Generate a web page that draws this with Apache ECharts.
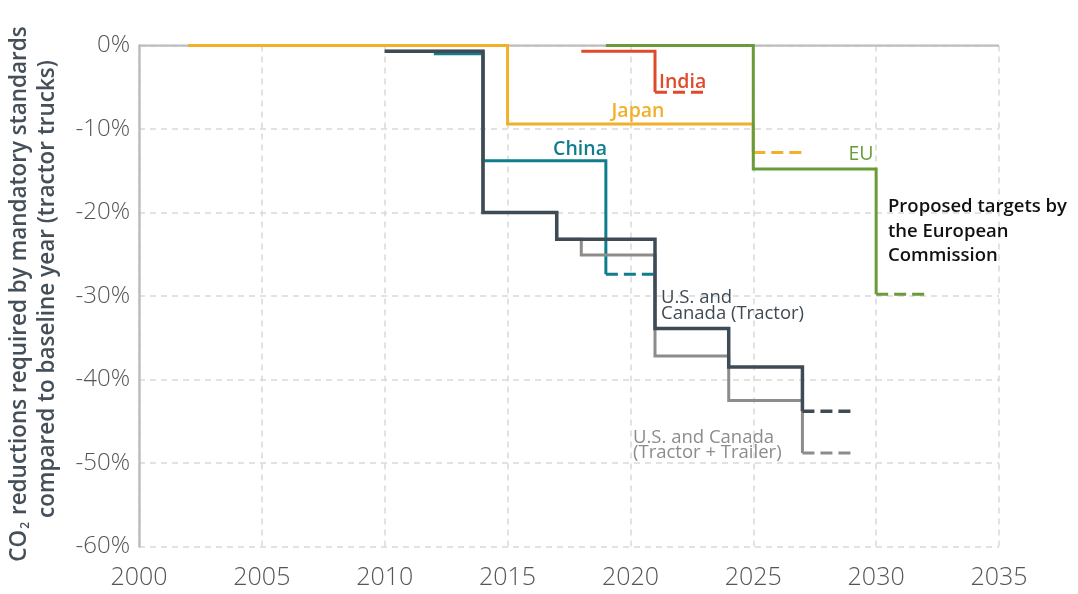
<!DOCTYPE html>
<html><head><meta charset="utf-8">
<script src="https://cdn.jsdelivr.net/npm/echarts@6/dist/echarts.min.js"></script>
<style>html,body{margin:0;padding:0;background:#fff}#c{width:1078px;height:594px}</style>
</head><body><div id="c"></div>
<script>
// Step targets: segment i runs from years[i] to years[i+1] at values[i]; the last segment is drawn dashed.
const japanYears = [2002, 2015, 2025, 2027];
const japanValues = [0, -9.4, -12.8];
const indiaYears = [2018, 2021, 2023];
const indiaValues = [-0.7, -5.6];
const euYears = [2019, 2025, 2030, 2032];
const euValues = [0, -14.8, -29.8];
const chinaYears = [2012, 2014, 2019, 2021];
const chinaValues = [-1.0, -13.8, -27.4];
const tractorYears = [2010, 2014, 2017, 2021, 2024, 2027, 2029];
const tractorValues = [-0.7, -20.0, -23.2, -33.9, -38.5, -43.8];
const trailerYears = [2010, 2014, 2017, 2018, 2021, 2024, 2027, 2029];
const trailerValues = [-0.7, -20.0, -23.2, -25.1, -37.2, -42.5, -48.8];
const baselineYears = [2000, 2035];
const baselineValue = 0;

const FONT = '"Open Sans", "Noto Sans", sans-serif';

function solidPts(years, values) {
  const pts = [];
  const n = values.length;
  for (let i = 0; i < n - 1; i++) {
    pts.push([years[i], values[i]]);
    pts.push([years[i + 1], values[i]]);
  }
  pts.push([years[n - 1], values[n - 1]]);
  return pts;
}
function dashedPts(years, values) {
  const n = values.length;
  return [[years[n - 1], values[n - 1]], [years[n], values[n - 1]]];
}
function pair(name, color, width, years, values, z) {
  const base = { type: 'line', showSymbol: false, symbol: 'none', silent: true, z: z, animation: false };
  return [
    Object.assign({}, base, { name: name, data: solidPts(years, values),
      lineStyle: { color: color, width: width, cap: 'butt', join: 'miter' } }),
    Object.assign({}, base, { name: name + ' dashed', data: dashedPts(years, values),
      lineStyle: { color: color, width: width, type: [12, 6], cap: 'butt' } })
  ];
}

const C = {
  japan: '#F2B02A', india: '#E04A2A', eu: '#6A9B3A', china: '#0F7D8E',
  tractor: '#3E4A54', trailer: '#8C8C8C', axis: '#BEBEBE', grid: '#D9D9D9'
};

const series = [
  { type: 'line', name: 'baseline', showSymbol: false, symbol: 'none', silent: true, z: 2,
    data: baselineYears.map(y => [y, baselineValue]),
    lineStyle: { color: C.axis, width: 2.5 } },
  ...pair('Japan', C.japan, 3, japanYears, japanValues, 5),
  ...pair('India', C.india, 3, indiaYears, indiaValues, 5),
  ...pair('EU', C.eu, 3, euYears, euValues, 5),
  ...pair('China', C.china, 3, chinaYears, chinaValues, 6),
  ...pair('Trailer', C.trailer, 3, trailerYears, trailerValues, 6),
  ...pair('Tractor', C.tractor, 3.5, tractorYears, tractorValues, 7)
];

function txt(x, y, text, fill, opts) {
  opts = opts || {};
  return { type: 'text', x: x, y: y, z: 50, silent: true,
    style: { text: text, fill: fill, fontSize: opts.size || 19.5, fontFamily: FONT,
      fontWeight: opts.weight || 600, align: opts.align || 'left',
      verticalAlign: opts.va || 'middle', lineHeight: opts.lh || 20 } };
}

const chart = echarts.init(document.getElementById('c'), null, { renderer: 'canvas' });
chart.setOption({
  animation: false,
  backgroundColor: '#ffffff',
  grid: { left: 139, right: 79, top: 45.5, bottom: 47.5, containLabel: false },
  xAxis: {
    type: 'value', min: 2000, max: 2035, interval: 5,
    axisLine: { show: false }, axisTick: { show: false },
    axisLabel: { color: '#555555', fontSize: 25, fontFamily: FONT, fontWeight: 300, margin: 19,
      formatter: v => String(v) },
    splitLine: { show: true, lineStyle: { color: C.grid, width: 1.5, type: [6, 5] } }
  },
  yAxis: {
    type: 'value', min: -60, max: 0, interval: 10,
    axisLine: { show: true, lineStyle: { color: C.axis, width: 2.5 } },
    axisTick: { show: false },
    axisLabel: { color: '#555555', fontSize: 24, fontFamily: FONT, fontWeight: 300, margin: 9,
      formatter: v => v + '%' },
    splitLine: { show: true, lineStyle: { color: C.grid, width: 1.5, type: [6, 5] } }
  },
  series: series,
  graphic: [
    txt(659, 82, 'India', C.india),
    txt(638, 111, 'Japan', C.japan, { align: 'center' }),
    txt(580, 149, 'China', C.china, { align: 'center' }),
    txt(861, 154, 'EU', C.eu, { align: 'center', weight: 400 }),
    txt(888, 194.5, 'Proposed targets by\nthe European\nCommission', '#111111',
      { va: 'top', lh: 24.5, weight: 600, size: 18.5 }),
    txt(661, 290, 'U.S. and\nCanada (Tractor)', C.tractor, { va: 'top', lh: 15.5, size: 18.5, weight: 400 }),
    txt(633, 430, 'U.S. and Canada\n(Tractor + Trailer)', C.trailer, { va: 'top', lh: 15, size: 18.5, weight: 400 }),
    { type: 'text', x: 20, y: 294, rotation: Math.PI / 2, z: 50, silent: true,
      style: { text: 'CO{sub|2} reductions required by mandatory standards', fill: '#444F59',
        fontSize: 22.5, fontFamily: FONT, fontWeight: 600, align: 'center', verticalAlign: 'middle',
        rich: { sub: { fontSize: 12, fontFamily: FONT, fontWeight: 600, fill: '#444F59', padding: [11, 1, 0, 1] } } } },
    { type: 'text', x: 48, y: 289, rotation: Math.PI / 2, z: 50, silent: true,
      style: { text: 'compared to baseline year (tractor trucks)', fill: '#444F59',
        fontSize: 22.5, fontFamily: FONT, fontWeight: 600, align: 'center', verticalAlign: 'middle' } }
  ]
});
</script>
</body></html>
